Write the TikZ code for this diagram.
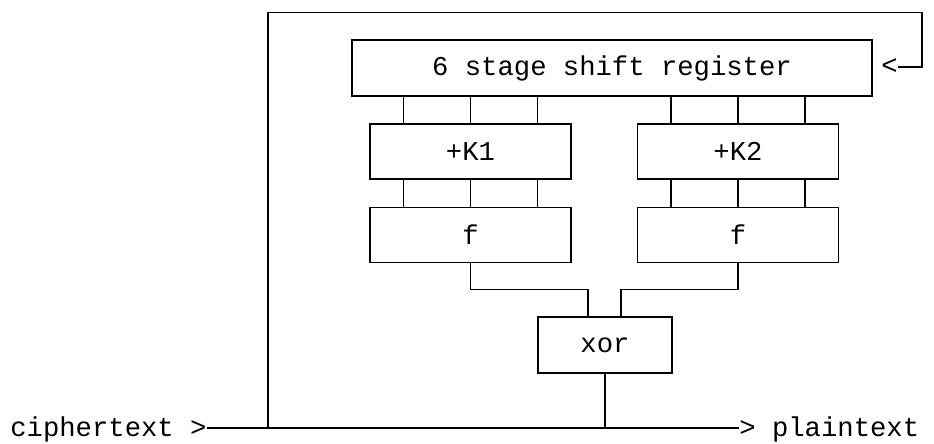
\documentclass[tikz,border=0pt]{standalone}
\usepackage{fontspec}
\setmonofont{Liberation Mono}
\usepackage{tikz}
\usetikzlibrary{positioning}

\begin{document}
\begin{tikzpicture}[
    font=\ttfamily\fontsize{15.5}{18}\selectfont,
    block/.style={draw=black, line width=1pt, fill=white,
        minimum width=4.02cm, minimum height=1.1cm, align=center},
    register/.style={block, minimum width=10.4cm, minimum height=1.12cm},
    gate/.style={block, minimum width=2.68cm, minimum height=1.12cm},
    label/.style={inner sep=0pt},
    wire/.style={line width=0.7pt, draw=black}
]
\useasboundingbox (0,0) rectangle (18.68,8.86);

% Shift register and the two key/function branches
\node[register] (reg) at (12.24,7.5) {6 stage shift register};
\node[block] (k1) at (9.41,5.83) {+K1};
\node[block] (k2) at (14.76,5.83) {+K2};
\node[block] (f1) at (9.41,4.16) {f};
\node[block] (f2) at (14.76,4.16) {f};

% Combining stage
\node[gate] (xor) at (12.1,1.96) {xor};

% Input, output and feedback labels
\node[label, anchor=base west] (cipher) at (0.2,0.14) {ciphertext >};
\node[label, anchor=base west] (plain) at (14.78,0.14) {> plaintext};
\node[label, anchor=west] (lt) at (17.62,7.52) {<};

% Corners of the feedback loop
\coordinate (tl) at (5.36,8.61);
\coordinate (tr) at (18.44,8.61);

% Register taps into each branch
\foreach \b in {k1,k2}{
    \foreach \dx in {-1.34,0,1.34}{
        \draw[wire] ([xshift=\dx cm]\b.north) -- ([xshift=\dx cm]\b.north |- reg.south);
    }
}
% Key addition into f
\foreach \dx in {-1.34,0,1.34}{
    \draw[wire] ([xshift=\dx cm]k1.south) -- ([xshift=\dx cm]f1.north);
    \draw[wire] ([xshift=\dx cm]k2.south) -- ([xshift=\dx cm]f2.north);
}
% f outputs into xor
\draw[wire] (f1.south) -- ++(0,-0.53) -| ([xshift=-0.34cm]xor.north);
\draw[wire] (f2.south) -- ++(0,-0.53) -| ([xshift=0.32cm]xor.north);

% Data line, xor output and feedback
\draw[wire] ([yshift=0.16cm]cipher.base east) -- ([yshift=0.16cm]plain.base west);
\draw[wire] (xor.south) -- ([yshift=0.16cm]xor.south |- plain.base);
\draw[wire] ([yshift=0.16cm]tl |- cipher.base) -- (tl) -- (tr) |- (lt.east);

\end{tikzpicture}
\end{document}
